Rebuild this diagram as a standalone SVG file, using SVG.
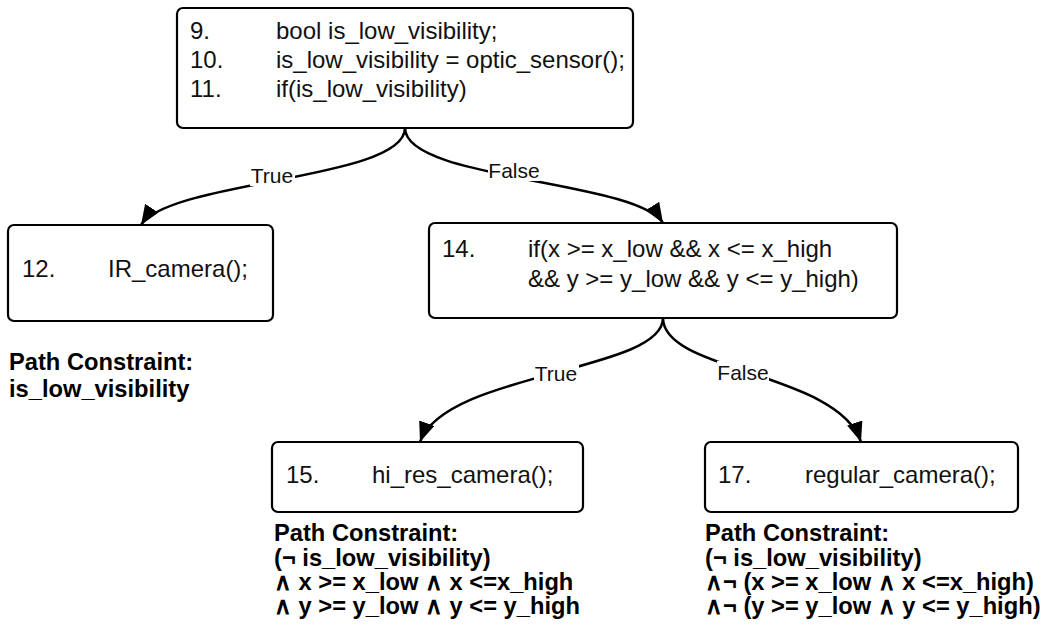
<svg xmlns="http://www.w3.org/2000/svg" width="1047" height="632" viewBox="0 0 1047 632">
<style>
.box{fill:#fff;stroke:#000;stroke-width:2.2}
.code{font-family:"Liberation Sans",Arial,sans-serif;font-size:24px;fill:#111}
.pc{font-family:"Liberation Sans",Arial,sans-serif;font-size:23.7px;font-weight:bold;fill:#000}
.lbl{font-family:"Liberation Sans",Arial,sans-serif;font-size:21px;fill:#111}
.edge{fill:none;stroke:#000;stroke-width:2.5}
.lblbg{fill:#fff}
</style>
<defs>
<marker id="arrow" viewBox="0 0 20 16" refX="20" refY="8" markerWidth="20" markerHeight="16" markerUnits="userSpaceOnUse" orient="auto">
<path d="M0,0 L20,8 L0,16 z" fill="#000"/>
</marker>
</defs>
<rect width="1047" height="632" fill="#fff"/>
<g id="connectors">
<path class="edge" d="M405,128 C405,180 170,180 141,225" marker-end="url(#arrow)"/>
<path class="edge" d="M405,128 C405,180 636,180 663,223" marker-end="url(#arrow)"/>
<path class="edge" d="M663,318 C663,372 445,372 420,442" marker-end="url(#arrow)"/>
<path class="edge" d="M663,318 C663,372 838,372 861,442" marker-end="url(#arrow)"/>
<rect class="lblbg" x="250" y="164" width="45" height="22"/>
<text class="lbl" x="272" y="183" text-anchor="middle">True</text>
<rect class="lblbg" x="488" y="159" width="52" height="22"/>
<text class="lbl" x="514" y="178" text-anchor="middle">False</text>
<rect class="lblbg" x="534" y="362" width="45" height="22"/>
<text class="lbl" x="556" y="381" text-anchor="middle">True</text>
<rect class="lblbg" x="717" y="361" width="52" height="22"/>
<text class="lbl" x="743" y="380" text-anchor="middle">False</text>
</g>
<g id="node-9">
<rect class="box" x="177" y="8" width="456" height="120" rx="6"/>
<text class="code" x="190" y="39">9.</text>
<text class="code" x="276" y="39">bool is_low_visibility;</text>
<text class="code" x="190" y="68">10.</text>
<text class="code" x="276" y="68">is_low_visibility = optic_sensor();</text>
<text class="code" x="190" y="97">11.</text>
<text class="code" x="276" y="97">if(is_low_visibility)</text>
</g>
<g id="node-12">
<rect class="box" x="8" y="225" width="265" height="96" rx="6"/>
<text class="code" x="22" y="277">12.</text>
<text class="code" x="108" y="277">IR_camera();</text>
</g>
<g id="pc-12">
<text class="pc" x="9" y="370">Path Constraint:</text>
<text class="pc" x="9" y="397">is_low_visibility</text>
</g>
<g id="node-14">
<rect class="box" x="429" y="223" width="468" height="95" rx="6"/>
<text class="code" x="442" y="257">14.</text>
<text class="code" x="528" y="257">if(x &gt;= x_low &amp;&amp; x &lt;= x_high</text>
<text class="code" x="528" y="287">&amp;&amp; y &gt;= y_low &amp;&amp; y &lt;= y_high)</text>
</g>
<g id="node-15">
<rect class="box" x="272" y="442" width="311" height="70" rx="6"/>
<text class="code" x="286" y="483">15.</text>
<text class="code" x="372" y="483">hi_res_camera();</text>
</g>
<g id="pc-15">
<text class="pc" x="274" y="541">Path Constraint:</text>
<text class="pc" x="274" y="566">(¬ is_low_visibility)</text>
<text class="pc" x="274" y="590">∧ x &gt;= x_low ∧ x &lt;=x_high</text>
<text class="pc" x="274" y="614">∧ y &gt;= y_low ∧ y &lt;= y_high</text>
</g>
<g id="node-17">
<rect class="box" x="705" y="442" width="313" height="70" rx="6"/>
<text class="code" x="718" y="483">17.</text>
<text class="code" x="805" y="483">regular_camera();</text>
</g>
<g id="pc-17">
<text class="pc" x="705" y="541">Path Constraint:</text>
<text class="pc" x="705" y="566">(¬ is_low_visibility)</text>
<text class="pc" x="705" y="590">∧¬ (x &gt;= x_low ∧ x &lt;=x_high)</text>
<text class="pc" x="705" y="614">∧¬ (y &gt;= y_low ∧ y &lt;= y_high)</text>
</g>
</svg>
